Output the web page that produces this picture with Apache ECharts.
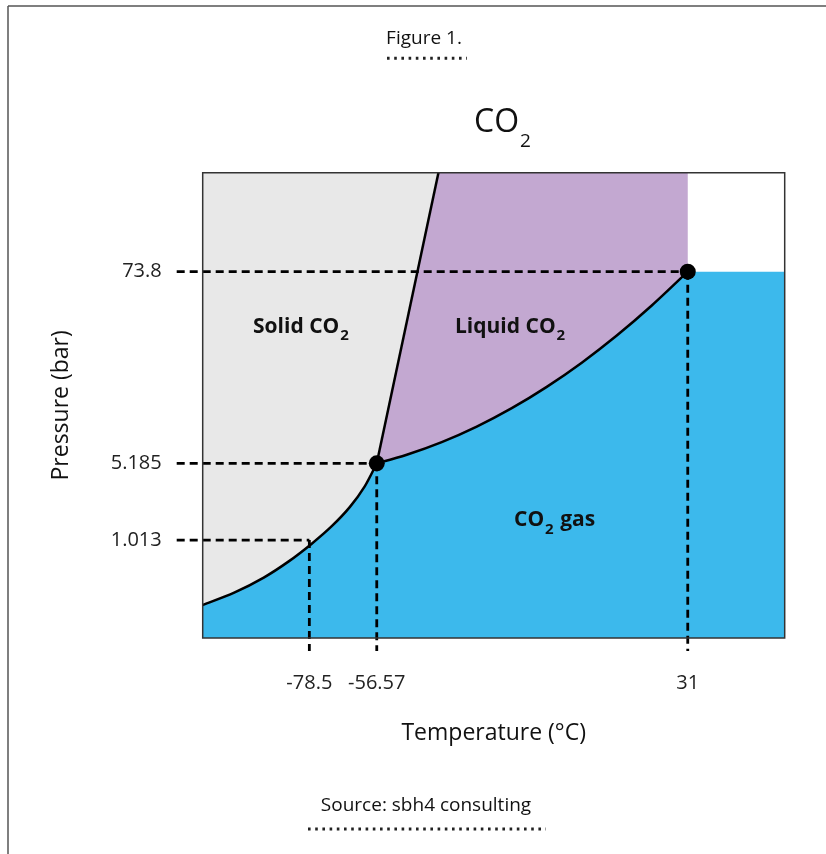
<!DOCTYPE html>
<html>
<head>
<meta charset="utf-8">
<script src="https://cdn.jsdelivr.net/npm/echarts@6/dist/echarts.min.js"></script>
<style>html,body{margin:0;padding:0;background:#fff}#c{width:826px;height:854px}</style>
</head>
<body>
<div id="c"></div>
<script>
// ---------------- data (°C, bar) ----------------
const TEMP_TICKS = [-78.5, -56.57, 31];
const TEMP_TICK_LABELS = ['-78.5', '-56.57', '31'];
const PRESSURE_TICKS = [1.013, 5.185, 73.8];
const PRESSURE_TICK_LABELS = ['1.013', '5.185', '73.8'];
const TEMP_RANGE = [-113.2, 58.3];
const PRESSURE_RANGE = [0.126, 291];
const TRIPLE_POINT = [-56.57, 5.185];
const CRITICAL_POINT = [31, 73.8];
const NORMAL_SUBLIMATION_POINT = [-78.5, 1.013];
const SUBLIMATION_T = [-113.2, -102.78, -93.34, -85.21, -77.72, -71.21, -65.36, -60.48, -56.57];
const SUBLIMATION_P = [0.2543, 0.3324, 0.4556, 0.6431, 0.9372, 1.359, 2.039, 3.175, 5.185];
const VAPOUR_T = [-56.57, -48.12, -38.27, -28.41, -18.55, -8.70, 1.16, 11.02, 20.87, 31];
const VAPOUR_P = [5.185, 5.834, 6.950, 8.618, 11.125, 14.95, 20.91, 30.45, 46.16, 73.8];
const MELTING_T = [-56.57, -39.2];
const MELTING_P = [5.185, 291];

// ---------------- schematic (non-linear) axis scale ----------------
// fraction of the axis length at which each tick sits
const TEMP_TICK_POS = [0.1832, 0.2990, 0.8333];
const PRESSURE_TICK_POS = [0.2106, 0.3755, 0.7872];

function piecewise(xs, ys, v) {
  let i;
  if (v <= xs[1]) i = 0;
  else if (v >= xs[xs.length - 2]) i = xs.length - 2;
  else { for (i = 0; i < xs.length - 1; i++) if (v >= xs[i] && v <= xs[i + 1]) break; }
  return ys[i] + (v - xs[i]) * (ys[i + 1] - ys[i]) / (xs[i + 1] - xs[i]);
}
const LOG_P_TICKS = PRESSURE_TICKS.map(Math.log10);
const tx = T => piecewise(TEMP_TICKS, TEMP_TICK_POS, T);
const py = P => piecewise(LOG_P_TICKS, PRESSURE_TICK_POS, Math.log10(P));

const C_GRAY = '#e8e8e8', C_PURPLE = '#c3a8d1', C_BLUE = '#3cb9ec';
const FONT = "'Open Sans', 'Noto Sans', sans-serif";

function fp(p) { return p[0].toFixed(2) + ' ' + p[1].toFixed(2); }
function smooth(pts) {
  let d = '';
  for (let i = 0; i < pts.length - 1; i++) {
    const p0 = pts[i - 1] || pts[i], p1 = pts[i], p2 = pts[i + 1], p3 = pts[i + 2] || pts[i + 1];
    const c1 = [p1[0] + (p2[0] - p0[0]) / 6, p1[1] + (p2[1] - p0[1]) / 6];
    const c2 = [p2[0] - (p3[0] - p1[0]) / 6, p2[1] - (p3[1] - p1[1]) / 6];
    d += ' C ' + fp(c1) + ' ' + fp(c2) + ' ' + fp(p2);
  }
  return d;
}

function renderDiagram(params, api) {
  const c = (T, P) => api.coord([tx(T), py(P)]);
  const [Tmin, Tmax] = TEMP_RANGE, [Pmin, Pmax] = PRESSURE_RANGE;
  const sub = SUBLIMATION_T.map((t, i) => c(t, SUBLIMATION_P[i]));
  const vap = VAPOUR_T.map((t, i) => c(t, VAPOUR_P[i]));
  const melt = MELTING_T.map((t, i) => c(t, MELTING_P[i]));
  const tl = c(Tmin, Pmax), br = c(Tmax, Pmin);
  const crit = c(CRITICAL_POINT[0], CRITICAL_POINT[1]);
  const subRev = sub.slice().reverse(), vapRev = vap.slice().reverse();

  const gray = 'M ' + fp(tl) + ' L ' + fp(melt[1]) + ' L ' + fp(melt[0]) + smooth(subRev) + ' Z';
  const purple = 'M ' + fp(melt[1]) + ' L ' + fp(c(CRITICAL_POINT[0], Pmax)) + ' L ' + fp(crit) + smooth(vapRev) + ' Z';
  const blue = 'M ' + fp(sub[0]) + smooth(sub) + smooth(vap) + ' L ' + fp(c(Tmax, CRITICAL_POINT[1])) +
    ' L ' + fp(br) + ' L ' + fp(c(Tmin, Pmin)) + ' Z';

  const children = [
    { type: 'path', shape: { pathData: gray }, style: { fill: C_GRAY, stroke: null } },
    { type: 'path', shape: { pathData: purple }, style: { fill: C_PURPLE, stroke: null } },
    { type: 'path', shape: { pathData: blue }, style: { fill: C_BLUE, stroke: null } }
  ];
  const dash = { stroke: '#000', lineWidth: 2.8, lineDash: [8, 5] };
  [NORMAL_SUBLIMATION_POINT, TRIPLE_POINT, CRITICAL_POINT].forEach(p => {
    const q = c(p[0], p[1]);
    children.push({ type: 'line', shape: { x1: tl[0] - 26, y1: q[1], x2: q[0], y2: q[1] }, style: dash });
    children.push({ type: 'line', shape: { x1: q[0], y1: q[1], x2: q[0], y2: br[1] + 13 }, style: dash });
  });
  const line = { fill: null, stroke: '#000', lineWidth: 2.5 };
  children.push({ type: 'path', shape: { pathData: 'M ' + fp(sub[0]) + smooth(sub) }, style: line });
  children.push({ type: 'path', shape: { pathData: 'M ' + fp(vap[0]) + smooth(vap) }, style: line });
  children.push({ type: 'line', shape: { x1: melt[0][0], y1: melt[0][1], x2: melt[1][0], y2: melt[1][1] }, style: line });
  children.push({ type: 'rect', shape: { x: tl[0], y: tl[1], width: br[0] - tl[0], height: br[1] - tl[1] },
    style: { fill: null, stroke: '#333', lineWidth: 1.5 } });
  return { type: 'group', children };
}

function subText(left, top, main, after, size, subSize, lh, subPad, weight) {
  const m = { fontFamily: FONT, fontSize: size, fontWeight: weight, fill: '#111', lineHeight: lh, verticalAlign: 'top' };
  const s = { fontFamily: FONT, fontSize: subSize, fontWeight: weight, fill: '#111', lineHeight: subSize + 1,
    padding: [subPad, 1, 0, 1], verticalAlign: 'top' };
  return {
    type: 'text', left: left, top: top, z: 50,
    style: { text: '{m|' + main + '}{s|2}' + (after ? '{m|' + after + '}' : ''), rich: { m: m, s: s } }
  };
}

const chart = echarts.init(document.getElementById('c'), null, { renderer: 'canvas' });
chart.setOption({
  animation: false,
  backgroundColor: '#fff',
  grid: { left: 202.7, top: 172.7, right: 41.3, bottom: 216, outerBoundsMode: 'none' },
  xAxis: {
    type: 'value', min: tx(TEMP_RANGE[0]), max: tx(TEMP_RANGE[1]),
    splitLine: { show: false }, axisLine: { show: false }, axisTick: { show: false },
    axisLabel: {
      customValues: TEMP_TICKS.map(tx), margin: 35, fontSize: 20, fontFamily: FONT, color: '#222',
      formatter: v => { const i = TEMP_TICKS.findIndex(t => Math.abs(tx(t) - v) < 1e-6); return i >= 0 ? TEMP_TICK_LABELS[i] : ''; }
    },
    name: 'Temperature (°C)', nameLocation: 'middle', nameGap: 84,
    nameTextStyle: { fontSize: 23, fontFamily: FONT, color: '#111' }
  },
  yAxis: {
    type: 'value', min: py(PRESSURE_RANGE[0]), max: py(PRESSURE_RANGE[1]),
    splitLine: { show: false }, axisLine: { show: false }, axisTick: { show: false },
    axisLabel: {
      customValues: PRESSURE_TICKS.map(py), margin: 41, fontSize: 20, fontFamily: FONT, color: '#222',
      formatter: v => { const i = PRESSURE_TICKS.findIndex(t => Math.abs(py(t) - v) < 1e-6); return i >= 0 ? PRESSURE_TICK_LABELS[i] : ''; }
    },
    name: 'Pressure (bar)', nameLocation: 'middle', nameGap: 130,
    nameTextStyle: { fontSize: 23, fontFamily: FONT, color: '#111' }
  },
  series: [
    { type: 'custom', renderItem: renderDiagram, data: [[0, 0]], clip: false, silent: true, z: 2 },
    {
      type: 'scatter', symbolSize: 16, z: 5, silent: true,
      itemStyle: { color: '#000', opacity: 1 },
      data: [TRIPLE_POINT, CRITICAL_POINT].map(p => [tx(p[0]), py(p[1])])
    }
  ],
  graphic: [
    { type: 'line', shape: { x1: 8, y1: 6, x2: 826, y2: 6 }, style: { stroke: '#555', lineWidth: 1.5 } },
    { type: 'line', shape: { x1: 8, y1: 6, x2: 8, y2: 854 }, style: { stroke: '#555', lineWidth: 1.5 } },
    { type: 'text', x: 424, y: 39, style: { text: 'Figure 1.', fontFamily: FONT, fontSize: 19, fill: '#111', align: 'center', verticalAlign: 'middle' } },
    { type: 'line', shape: { x1: 387, y1: 58.3, x2: 467, y2: 58.3 }, style: { stroke: '#222', lineWidth: 3, lineDash: [2.6, 4.6] } },
    subText(474, 107, 'CO', '', 32, 19, 36, 25, 'normal'),
    subText(253, 316.7, 'Solid CO', '', 21, 15, 24, 12, 'bold'),
    subText(455, 316.7, 'Liquid CO', '', 21, 15, 24, 12, 'bold'),
    subText(514, 510, 'CO', ' gas', 21, 15, 24, 12, 'bold'),
    { type: 'text', x: 426, y: 806, style: { text: 'Source: sbh4 consulting', fontFamily: FONT, fontSize: 19, fill: '#111', align: 'center', verticalAlign: 'middle' } },
    { type: 'line', shape: { x1: 308, y1: 829, x2: 546, y2: 829 }, style: { stroke: '#222', lineWidth: 3, lineDash: [2.6, 4.6] } }
  ]
});
</script>
</body>
</html>
